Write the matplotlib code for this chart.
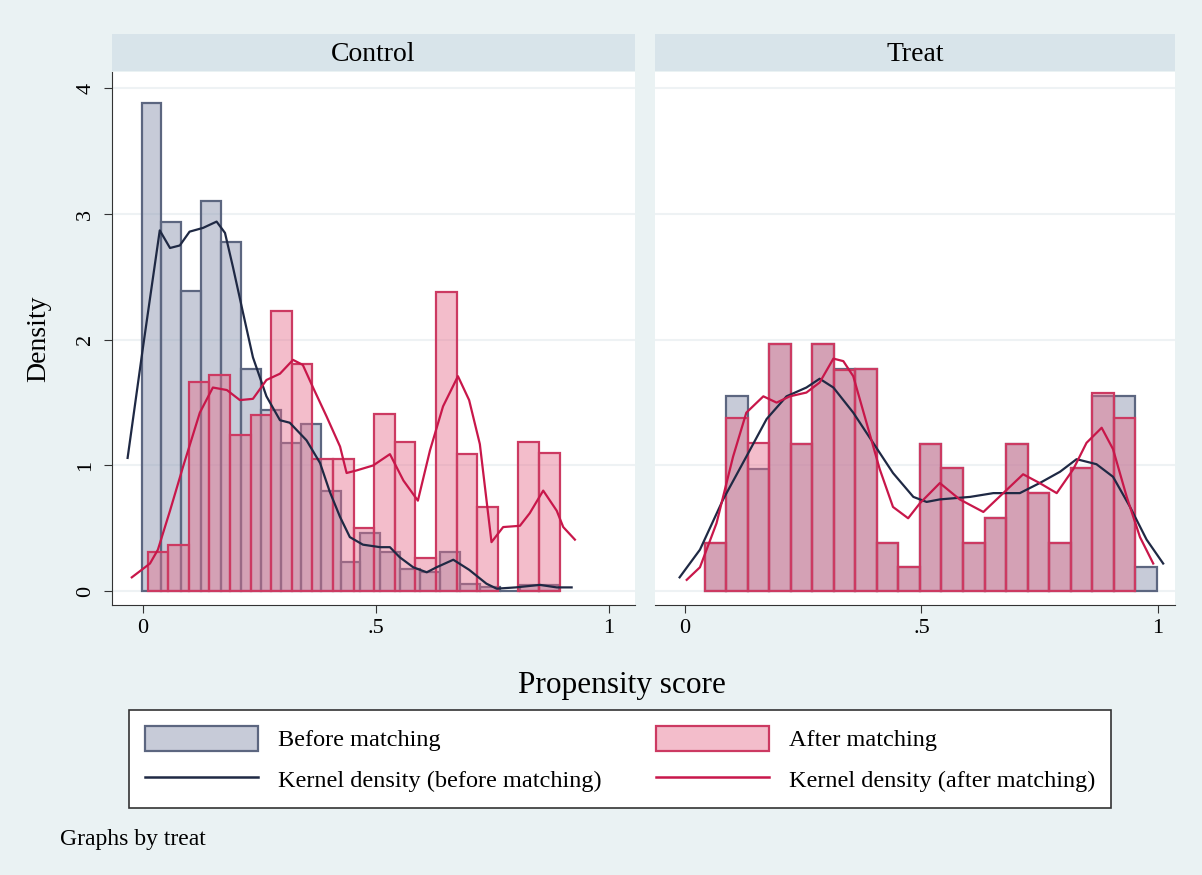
import numpy as np
import matplotlib
matplotlib.use("Agg")
import matplotlib.pyplot as plt
from matplotlib.patches import Patch
from matplotlib.lines import Line2D

plt.rcParams['font.family'] = ['Liberation Serif', 'DejaVu Serif']

# ---- data ----
# Control panel, before matching (21 bins starting at 0.0)
ctrl_before_start, ctrl_before_width = -0.003, 0.0427
ctrl_before = [3.88, 2.94, 2.39, 3.10, 2.78, 1.77, 1.44, 1.18, 1.33, 0.80, 0.23,
               0.46, 0.31, 0.18, 0.15, 0.31, 0.06, 0.03, 0.00, 0.05, 0.05]
# Control panel, after matching (20 bins)
ctrl_after_start, ctrl_after_width = 0.010, 0.0442
ctrl_after = [0.31, 0.37, 1.66, 1.72, 1.24, 1.40, 2.23, 1.81, 1.05, 1.05,
              0.50, 1.41, 1.19, 0.26, 2.38, 1.09, 0.67, 0.00, 1.19, 1.10]
# Treat panel (21 bins)
treat_start, treat_width = 0.042, 0.0455
treat_before = [0.38, 1.55, 0.97, 1.97, 1.17, 1.97, 1.77, 1.77, 0.38, 0.19, 1.17,
                0.98, 0.38, 0.58, 1.17, 0.78, 0.38, 0.98, 1.55, 1.55, 0.19]
treat_after = [0.38, 1.38, 1.18, 1.97, 1.17, 1.97, 1.76, 1.77, 0.38, 0.19, 1.17,
               0.98, 0.38, 0.58, 1.17, 0.78, 0.38, 0.98, 1.58, 1.38, 0.00]

# kernel density curves
ctrl_kb_x = [-0.033, 0.0, 0.036, 0.058, 0.079, 0.10, 0.129, 0.158, 0.176, 0.193, 0.215,
             0.236, 0.265, 0.294, 0.315, 0.351, 0.38, 0.401, 0.423, 0.444, 0.472, 0.509,
             0.53, 0.551, 0.58, 0.609, 0.63, 0.666, 0.70, 0.737, 0.759, 0.80, 0.852,
             0.888, 0.92]
ctrl_kb_y = [1.06, 1.94, 2.87, 2.73, 2.75, 2.86, 2.89, 2.94, 2.85, 2.58, 2.21,
             1.86, 1.55, 1.36, 1.34, 1.20, 1.02, 0.79, 0.59, 0.43, 0.37, 0.35,
             0.35, 0.27, 0.19, 0.15, 0.19, 0.25, 0.17, 0.06, 0.02, 0.03, 0.05,
             0.03, 0.03]
ctrl_ka_x = [-0.024, 0.015, 0.032, 0.058, 0.086, 0.122, 0.15, 0.18, 0.208, 0.236, 0.265,
             0.294, 0.322, 0.343, 0.365, 0.394, 0.423, 0.437, 0.458, 0.494, 0.53, 0.559,
             0.59, 0.616, 0.644, 0.676, 0.70, 0.723, 0.748, 0.773, 0.809, 0.83, 0.859,
             0.888, 0.902, 0.927]
ctrl_ka_y = [0.11, 0.22, 0.33, 0.64, 0.99, 1.42, 1.62, 1.60, 1.52, 1.53, 1.68,
             1.73, 1.84, 1.80, 1.62, 1.39, 1.15, 0.94, 0.96, 1.00, 1.09, 0.88,
             0.72, 1.12, 1.47, 1.71, 1.52, 1.17, 0.39, 0.51, 0.52, 0.62, 0.80,
             0.64, 0.51, 0.41]
treat_kb_x = [-0.011, 0.032, 0.081, 0.13, 0.173, 0.215, 0.257, 0.285, 0.314, 0.356,
              0.398, 0.44, 0.483, 0.511, 0.539, 0.603, 0.652, 0.708, 0.75, 0.793,
              0.828, 0.87, 0.905, 0.941, 0.976, 1.011]
treat_kb_y = [0.11, 0.33, 0.73, 1.07, 1.37, 1.55, 1.62, 1.69, 1.62, 1.42,
              1.18, 0.94, 0.75, 0.71, 0.73, 0.75, 0.78, 0.78, 0.86, 0.95,
              1.05, 1.01, 0.91, 0.67, 0.41, 0.22]
treat_ka_x = [0.004, 0.032, 0.067, 0.102, 0.13, 0.166, 0.194, 0.222, 0.257, 0.285,
              0.314, 0.335, 0.356, 0.384, 0.412, 0.44, 0.472, 0.497, 0.518, 0.539,
              0.581, 0.631, 0.673, 0.715, 0.75, 0.786, 0.821, 0.849, 0.881, 0.905,
              0.934, 0.962, 0.99]
treat_ka_y = [0.09, 0.19, 0.54, 1.07, 1.42, 1.55, 1.50, 1.55, 1.58, 1.66,
              1.85, 1.83, 1.71, 1.34, 0.97, 0.67, 0.58, 0.70, 0.78, 0.86,
              0.73, 0.63, 0.78, 0.93, 0.86, 0.78, 0.97, 1.18, 1.30, 1.13,
              0.75, 0.43, 0.22]

panel_titles = ['Control', 'Treat']

# ---- styles ----
bg = '#eaf2f3'
strip_col = '#d8e4ea'
gray_fill = (0.565, 0.60, 0.70, 0.5)
gray_edge = '#5c6680'
pink_fill = (0.90, 0.43, 0.55, 0.45)
pink_edge = '#cc3a62'
navy = '#1f2944'
crimson = '#c8174a'

W, H = 1202, 875
fig = plt.figure(figsize=(W / 100, H / 100), dpi=100, facecolor=bg)


def box(x0, y0, x1, y1):
    return [x0 / W, 1 - y1 / H, (x1 - x0) / W, (y1 - y0) / H]


ax1 = fig.add_axes(box(112, 72, 635, 605))
ax2 = fig.add_axes(box(655, 72, 1175, 605))

panels = [
    (ax1, ctrl_before_start, ctrl_before_width, ctrl_before,
     ctrl_after_start, ctrl_after_width, ctrl_after,
     ctrl_kb_x, ctrl_kb_y, ctrl_ka_x, ctrl_ka_y, (-0.0665, 1.056)),
    (ax2, treat_start, treat_width, treat_before,
     treat_start, treat_width, treat_after,
     treat_kb_x, treat_kb_y, treat_ka_x, treat_ka_y, (-0.063, 1.036)),
]

for i, (ax, bs, bw, bh, as_, aw, ah, kbx, kby, kax, kay, xl) in enumerate(panels):
    ax.set_facecolor('white')
    for y in [0, 1, 2, 3, 4]:
        ax.axhline(y, color='#eef2f4', lw=1.5, zorder=0)
    bl = bs + bw * np.arange(len(bh))
    al = as_ + aw * np.arange(len(ah))
    ax.bar(bl, bh, width=bw, align='edge', color=gray_fill,
           edgecolor=gray_edge, linewidth=1.6, zorder=2)
    keep = np.array(ah) > 0
    ax.bar(al[keep], np.array(ah)[keep], width=aw, align='edge', color=pink_fill,
           edgecolor=pink_edge, linewidth=1.6, zorder=3)
    ax.plot(kbx, kby, color=navy, lw=1.6, zorder=4)
    ax.plot(kax, kay, color=crimson, lw=1.6, zorder=5)
    ax.set_xlim(*xl)
    ax.set_ylim(-0.11, 4.13)
    ax.set_xticks([0, 0.5, 1])
    ax.set_xticklabels(['0', '.5', '1'], fontsize=16)
    ax.set_yticks([0, 1, 2, 3, 4])
    for s in ['top', 'right']:
        ax.spines[s].set_visible(False)
    ax.spines['bottom'].set_color('#333333')
    ax.tick_params(axis='x', length=6, color='#333333', pad=4)
    if i == 0:
        ax.spines['left'].set_color('#333333')
        ax.set_yticklabels(['0', '1', '2', '3', '4'], fontsize=16, rotation=90, va='center')
        ax.tick_params(axis='y', length=6, color='#333333', pad=6)
        ax.set_ylabel('Density', fontsize=20, labelpad=18)
    else:
        ax.spines['left'].set_visible(False)
        ax.tick_params(axis='y', left=False, labelleft=False)

    # strip header
    x0 = 112 if i == 0 else 655
    x1 = 635 if i == 0 else 1175
    sax = fig.add_axes(box(x0, 34, x1, 71))
    sax.set_facecolor(strip_col)
    sax.set_xticks([])
    sax.set_yticks([])
    for s in sax.spines.values():
        s.set_visible(False)
    sax.text(0.5, 0.45, panel_titles[i], ha='center', va='center', fontsize=20,
             transform=sax.transAxes)

fig.text(622 / W, 1 - 686 / H, 'Propensity score', ha='center', va='center', fontsize=22.5)

handles = [Patch(facecolor=gray_fill, edgecolor=gray_edge, linewidth=1.6),
           Line2D([], [], color=navy, lw=1.8),
           Patch(facecolor=pink_fill, edgecolor=pink_edge, linewidth=1.6),
           Line2D([], [], color=crimson, lw=1.8)]
labels = ['Before matching', 'Kernel density (before matching)',
          'After matching', 'Kernel density (after matching)']
leg = fig.legend(handles, labels, ncol=2, loc='center',
                 bbox_to_anchor=(620 / W, 1 - 759 / H), fontsize=17.5,
                 handlelength=4.65, handleheight=1.23, handletextpad=0.82,
                 columnspacing=2.26, labelspacing=0.62, borderpad=0.65,
                 fancybox=False, framealpha=1, facecolor='white', edgecolor='#333333')
leg.get_frame().set_linewidth(1.2)

fig.text(60 / W, 1 - 840 / H, 'Graphs by treat', ha='left', va='center', fontsize=17)

fig.savefig('out.png', dpi=100, facecolor=bg)
